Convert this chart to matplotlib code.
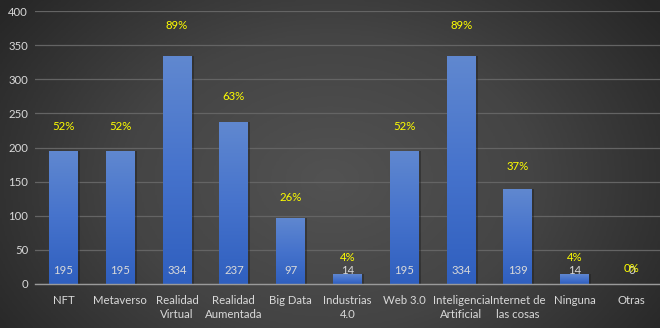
import numpy as np
import matplotlib
matplotlib.use("Agg")
import matplotlib.pyplot as plt
from matplotlib.colors import LinearSegmentedColormap
from matplotlib.transforms import ScaledTranslation

plt.rcParams["font.family"] = ["Lato", "DejaVu Sans"]

categories = ["NFT", "Metaverso", "Realidad\nVirtual", "Realidad\nAumentada", "Big Data",
              "Industrias\n4.0", "Web 3.0", "Inteligencia\nArtificial", "Internet de\nlas cosas",
              "Ninguna", "Otras"]
counts = [195, 195, 334, 237, 97, 14, 195, 334, 139, 14, 0]
percents = [52, 52, 89, 63, 26, 4, 52, 89, 37, 4, 0]
yticks = [0, 50, 100, 150, 200, 250, 300, 350, 400]

TXT = "#d9d9d9"
GRID = "#646464"
YELLOW = "#ffff00"
FS = 8.2

fig = plt.figure(figsize=(6.6, 3.28), dpi=100)

# radial dark backdrop
bg = fig.add_axes([0, 0, 1, 1], zorder=-10)
yy, xx = np.mgrid[0:1:200j, 0:1:400j]
r = np.sqrt(((xx - 0.5) / 0.62) ** 2 + ((yy - 0.55) / 0.9) ** 2)
bg_cmap = LinearSegmentedColormap.from_list("bg", ["#525252", "#444444", "#262626"])
bg.imshow(np.clip(r, 0, 1), cmap=bg_cmap, aspect="auto", extent=[0, 1, 0, 1], vmin=0, vmax=1)
bg.axis("off")

ax = fig.add_axes([35 / 660, 44 / 328, 625 / 660, 273 / 328])
ax.patch.set_alpha(0)
x = np.arange(len(categories))
bars = ax.bar(x, counts, width=0.51, color="none", zorder=3)

bar_cmap = LinearSegmentedColormap.from_list("bar", ["#2f5fbf", "#4673cc", "#6088d0"])
grad = np.linspace(0, 1, 256).reshape(-1, 1)
for b in bars:
    x0, w, h = b.get_x(), b.get_width(), b.get_height()
    if h <= 0:
        continue
    # faint drop shadow on the right side
    ax.bar(x0 + w / 2 + 0.035, h, width=w, bottom=0, color="#1e1e1e", alpha=0.45, zorder=2)
    im = ax.imshow(grad, cmap=bar_cmap, aspect="auto", origin="lower",
                   extent=[x0, x0 + w, 0, h], zorder=3)
    im.set_clip_path(b)

base = ax.transData + ScaledTranslation(0, 14 / 100, fig.dpi_scale_trans)
for xi, c, p in zip(x, counts, percents):
    ax.text(xi, 0, str(c), ha="center", va="center", color=TXT, fontsize=FS,
            transform=base, zorder=5)
    ax.annotate(f"{p}%", xy=(xi, p * 4), xytext=(0, 16), textcoords="offset pixels",
                ha="center", va="center", color=YELLOW, fontsize=FS, zorder=5)

ax.set_xlim(-0.5, len(categories) - 0.5)
ax.set_ylim(0, 400)
ax.set_yticks(yticks)
ax.set_xticks(x)
ax.set_xticklabels(categories, linespacing=1.35)
ax.tick_params(axis="both", length=0, colors=TXT, labelsize=FS)
ax.tick_params(axis="x", pad=8)
ax.tick_params(axis="y", pad=5)
ax.grid(axis="y", color=GRID, lw=0.9, zorder=0)
for s in ["top", "right", "left"]:
    ax.spines[s].set_visible(False)
ax.spines["bottom"].set_color("#9a9a9a")
ax.spines["bottom"].set_linewidth(1.0)
ax.spines["bottom"].set_zorder(4)

fig.savefig("out.png", dpi=100)
